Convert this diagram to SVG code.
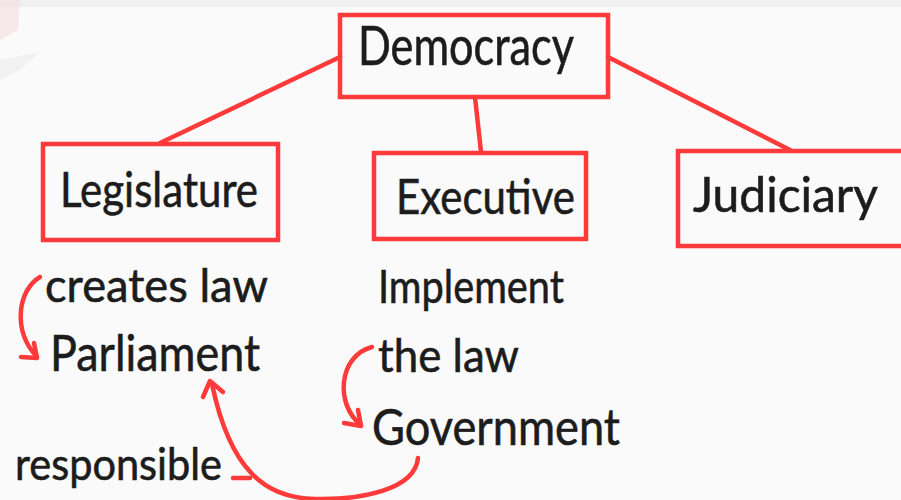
<svg xmlns="http://www.w3.org/2000/svg" width="901" height="500" viewBox="0 0 901 500">
<defs>
<style>
.box{fill:none;stroke:#ff3a3a;stroke-width:4.5}
.con{fill:none;stroke:#ff3a3a;stroke-width:4.5;stroke-linecap:round;stroke-linejoin:round}
.t{font-family:Lato,"Open Sans","Liberation Sans",sans-serif;fill:#1c1c1c;font-weight:normal;stroke:#1c1c1c;stroke-width:0.6}
</style>
</defs>
<rect width="901" height="500" fill="#fafafa"/>
<rect x="0" y="0" width="901" height="7" fill="#f0f0f0"/>
<g id="watermark" opacity="0.6">
<path d="M0 0 L20 0 L18 30 L0 40 Z" fill="#f6dede"/>
<path d="M0 60 L40 52 L20 70 L0 80 Z" fill="#ececec"/>
</g>
<g id="connectors">
<line class="con" x1="340" y1="57" x2="160" y2="143"/>
<line class="con" x1="475" y1="97" x2="481" y2="152"/>
<line class="con" x1="608" y1="57" x2="790" y2="150"/>
<path class="con" d="M40 277 C18 290 12 330 37 357"/>
<path class="con" d="M21 357 L37 358 L34 343"/>
<path class="con" d="M372 347 C338 356 335 405 361 425"/>
<path class="con" d="M344 423 L361 426 L358 410"/>
<path class="con" d="M418 458 C415 490 360 500 315 499 C265 498 230 470 212 384"/>
<path class="con" d="M203 397 L210 381 L223 392"/>
<path class="con" d="M233 478 L250 478"/>
</g>
<g id="democracy">
<rect class="box" x="340" y="15" width="268" height="82"/>
<text class="t" x="358" y="65" font-size="54" textLength="216" lengthAdjust="spacingAndGlyphs">Democracy</text>
</g>
<g id="legislature">
<rect class="box" x="43" y="144" width="235" height="96"/>
<text class="t" x="60" y="207" font-size="49" textLength="198" lengthAdjust="spacingAndGlyphs">Legislature</text>
</g>
<g id="executive">
<rect class="box" x="374" y="153" width="212" height="86"/>
<text class="t" x="396" y="214" font-size="49" textLength="179" lengthAdjust="spacingAndGlyphs">Executive</text>
</g>
<g id="judiciary">
<rect class="box" x="678" y="151" width="230" height="95"/>
<text class="t" x="693" y="212" font-size="49" textLength="185" lengthAdjust="spacingAndGlyphs">Judiciary</text>
</g>
<g id="notes">
<text class="t" x="45" y="302" font-size="46" textLength="223" lengthAdjust="spacingAndGlyphs">creates law</text>
<text class="t" x="50" y="371" font-size="50" textLength="210" lengthAdjust="spacingAndGlyphs">Parliament</text>
<text class="t" x="378" y="303" font-size="47" textLength="186" lengthAdjust="spacingAndGlyphs">Implement</text>
<text class="t" x="378" y="372" font-size="47" textLength="141" lengthAdjust="spacingAndGlyphs">the law</text>
<text class="t" x="372" y="445" font-size="51" textLength="248" lengthAdjust="spacingAndGlyphs">Government</text>
<text class="t" x="15" y="480" font-size="44" textLength="207" lengthAdjust="spacingAndGlyphs">responsible</text>
</g>
</svg>
